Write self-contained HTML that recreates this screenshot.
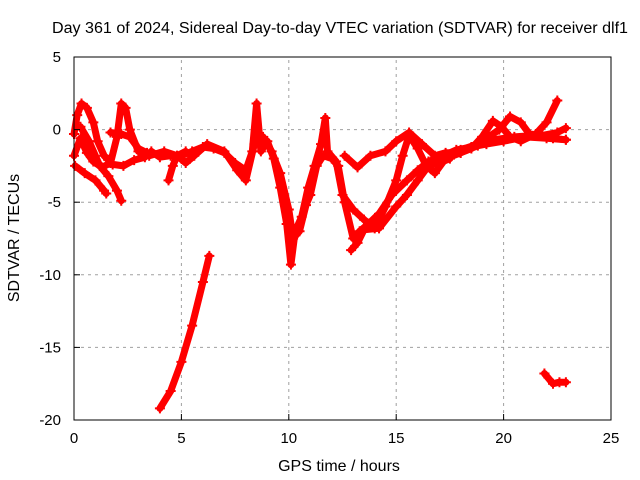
<!DOCTYPE html>
<html><head><meta charset="utf-8"><style>
body{margin:0;background:#fff}
svg{display:block;font-family:"Liberation Sans",sans-serif}
</style></head><body>
<svg id="chart" width="640" height="480" xmlns="http://www.w3.org/2000/svg">
<rect width="640" height="480" fill="#fff"/>
<text x="340" y="33" font-size="15.5" text-anchor="middle" textLength="576" lengthAdjust="spacingAndGlyphs">Day 361 of 2024, Sidereal Day-to-day VTEC variation (SDTVAR) for receiver dlf1</text>
<g id="grid"></g>
<g id="series"></g>
<rect x="74" y="57" width="537" height="363" fill="none" stroke="#000" stroke-width="1"/>
<g id="ticks"></g>
<text x="339" y="471" font-size="16" text-anchor="middle">GPS time / hours</text>
<text transform="translate(19,238) rotate(-90)" font-size="16" text-anchor="middle">SDTVAR / TECUs</text>
</svg>
<script>
const xTicks=[0,5,10,15,20,25];
const yTicks=[5,0,-5,-10,-15,-20];
const sA_x=[0,0.15,0.35,0.6,0.9,1.1,1.4,1.8,2.3,2.8,3.3,3.6,4.0,4.5,5.0,5.5,6.0,6.5,7.0,7.5,8.0,8.3,8.5,8.7,9.0,9.3,9.6,9.9,10.1,10.3,10.6,10.9,11.2,11.5,11.7,11.8,12.2,12.5,13.0,13.5,14.0,14.5,15.0,15.3,15.6,16.0,16.4,16.8,17.3,18.0,18.8,19.5,20.5,21.5,22.3,22.9];
const sA_y=[-0.3,1.0,1.8,1.5,0.5,-0.8,-1.8,-2.4,-2.5,-2.1,-1.9,-1.5,-1.9,-1.8,-1.8,-1.5,-1.2,-1.3,-1.6,-2.3,-2.8,-1.5,1.8,-1.5,-0.8,-2.0,-4,-6.5,-9.3,-7,-6,-4,-2.5,-1,0.8,-1.5,-2.2,-4.5,-5.5,-6.2,-6.8,-5.3,-3.5,-1.8,-0.4,-1.3,-2.5,-3.0,-2.0,-1.6,-1.1,-0.7,-0.5,-0.4,-0.6,-0.7];
const sB_x=[0,0.3,0.6,0.9,1.3,1.7,2.0,2.2,2.4,2.6,3.0,3.5,4.2,4.8,5.2,5.6,6.2,7.0,7.6,8.0,8.4,8.8,9.2,9.6,10.0,10.2,10.5,10.8,11.0,11.3,11.6,12.0,12.3,12.6,13.0,13.3,13.7,14.2,14.8,15.5,16.0,16.5,17.2,17.8,18.5,19.2,20.0,21.0,22.0,22.9];
const sB_y=[-1.8,-0.6,-1.6,-2.2,-2.6,-2.3,-0.5,1.8,1.5,0.0,-1.5,-1.8,-1.5,-1.8,-2.3,-1.8,-1.0,-1.5,-2.8,-3.5,-1,-0.5,-1.5,-3.0,-5.5,-7.5,-7.0,-5.2,-4.5,-2.5,-1.8,-2.0,-2.5,-5.0,-7.5,-7.0,-6.5,-5.8,-4.5,-3.5,-2.8,-2.2,-1.8,-1.4,-1.2,-1.0,-0.8,-0.5,-0.6,-0.7];
const sC_x=[0.05,0.5,1.0,1.4,1.5];
const sC_y=[-2.5,-3.0,-3.5,-4.2,-4.4];
const sD_x=[0.3,0.7,1.2,1.6,2.0,2.2];
const sD_y=[0.2,-0.8,-2.5,-3.2,-4.2,-4.9];
const sE_x=[1.7,2.2,2.6,3.0,3.4];
const sE_y=[-0.2,-0.3,-0.5,-1.3,-1.6];
const sF_x=[12.6,13.2,13.8,14.5,15.0,15.6,16.2,16.8,17.3,18.0,18.5,19.0,19.5,19.9,20.3,20.8,21.5,22.0,22.5];
const sF_y=[-1.8,-2.6,-1.8,-1.5,-0.8,-0.2,-1.0,-1.8,-1.6,-1.6,-1.3,-0.5,0.6,0.2,-0.5,-0.8,-0.3,0.5,2.0];
const sG_x=[18.0,18.8,19.3,19.8,20.3,20.8,21.2,21.8,22.5,22.9];
const sG_y=[-1.4,-1.0,-0.5,0.0,0.9,0.5,-0.3,-0.4,-0.2,0.1];
const sH_x=[12.9,13.2,13.5,14.2,15.0,15.5,16.0,16.5,17.0,17.5];
const sH_y=[-8.3,-7.8,-6.9,-6.8,-5.3,-4.5,-3.5,-2.5,-2.3,-2.0];
const sI_x=[4.4,4.6,4.8,5.2];
const sI_y=[-3.5,-2.5,-1.8,-1.5];
const sJ_x=[4.0,4.5,5.0,5.5,6.0,6.3];
const sJ_y=[-19.2,-18.0,-16.0,-13.5,-10.5,-8.7];
const sK_x=[21.9,22.3,22.6,22.9];
const sK_y=[-16.8,-17.5,-17.4,-17.4];
const seriesList=[[sA_x,sA_y],[sB_x,sB_y],[sC_x,sC_y],[sD_x,sD_y],[sE_x,sE_y],[sF_x,sF_y],[sG_x,sG_y],[sH_x,sH_y],[sI_x,sI_y],[sJ_x,sJ_y],[sK_x,sK_y]];

const X0=74,X1=611,Y0=420,Y1=57;
const xs=v=>X0+(v-0)/25*(X1-X0);
const ys=v=>Y0-(v+20)/25*(Y0-Y1);
const NS="http://www.w3.org/2000/svg";
const grid=document.getElementById('grid'),ticks=document.getElementById('ticks'),ser=document.getElementById('series');
function mk(t,a){const e=document.createElementNS(NS,t);for(const k in a)e.setAttribute(k,a[k]);return e;}
xTicks.forEach(v=>{
  const x=xs(v);
  if(v>0&&v<25){const g=mk('line',{x1:x,x2:x,y1:Y0,y2:Y1,stroke:'#a0a0a0','stroke-dasharray':'3,4'});
  
  
  grid.appendChild(g);}
  const t=mk('text',{x:x,y:443,'font-size':15,'text-anchor':'middle'});t.textContent=v;
  
  
  ticks.appendChild(t);
  ticks.appendChild(mk('line',{x1:x,x2:x,y1:Y0,y2:Y0-6,stroke:'#000'}));
});
yTicks.forEach(v=>{
  const y=ys(v);
  if(v>-20&&v<5){const g=mk('line',{x1:X0,x2:X1,y1:y,y2:y,stroke:'#a0a0a0','stroke-dasharray':'3,4'});
  
  
  grid.appendChild(g);}
  const t=mk('text',{x:61,y:y+5,'font-size':15,'text-anchor':'end'});t.textContent=v;
  
  
  ticks.appendChild(t);
  ticks.appendChild(mk('line',{x1:X0,x2:X0+6,y1:y,y2:y,stroke:'#000'}));
});
seriesList.forEach((s,i)=>{
  const pts=s[0].map((x,j)=>xs(x).toFixed(1)+','+ys(s[1][j]).toFixed(1)).join(' ');
  const pl=mk('polyline',{points:pts,fill:'none',stroke:'#ff0000','stroke-width':7,'stroke-linejoin':'round','stroke-linecap':'round'});
  
  
  ser.appendChild(pl);
  s[0].forEach((x,j)=>{
    const cx=xs(x),cy=ys(s[1][j]);
    const p=mk('path',{d:`M${cx-5},${cy}h10M${cx},${cy-5}v10`,stroke:'#ff0000','stroke-width':2});
    
    
    ser.appendChild(p);
  });
});
</script>
</body></html>
